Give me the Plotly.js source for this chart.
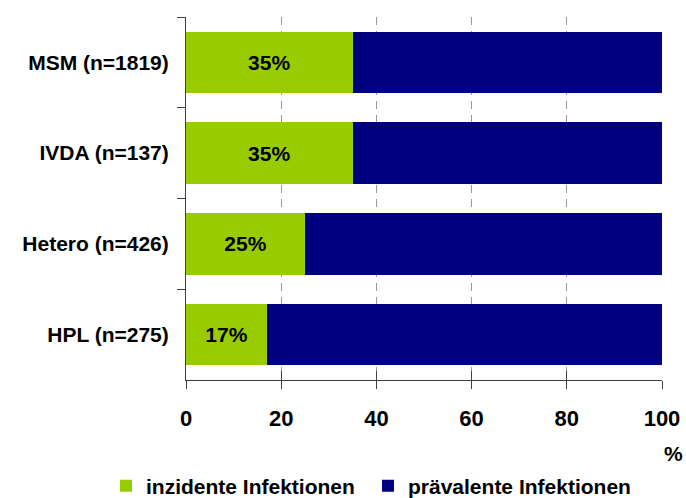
<!DOCTYPE html>
<html>
<head>
<meta charset="utf-8">
<script src="https://cdn.plot.ly/plotly-3.0.1.min.js"></script>
<style>
  html, body { margin: 0; padding: 0; background: #fff; }
  #chart { width: 686px; height: 498px; }
</style>
</head>
<body>
<div id="chart"></div>
<script>
// Groups, top to bottom
const groups = ['MSM (n=1819)', 'IVDA (n=137)', 'Hetero (n=426)', 'HPL (n=275)'];
// Share of incident infections per group (%)
const incident = [35, 35, 25, 17];
// Remaining share: prevalent infections (%)
const prevalent = [65, 65, 75, 83];
const seriesNames = ['inzidente Infektionen', 'prävalente Infektionen'];
const xTicks = [0, 20, 40, 60, 80, 100];

const FONT = 'Liberation Sans, Arial, sans-serif';

const traces = [
  {
    type: 'bar', orientation: 'h', name: seriesNames[0], legend: 'legend',
    y: groups, x: incident,
    marker: { color: '#99cc00' },
    text: incident.map(v => v + '%'),
    textposition: 'inside', insidetextanchor: 'middle',
    textfont: { family: FONT, size: 21, color: '#000', weight: 'bold' },
    hoverinfo: 'skip'
  },
  {
    type: 'bar', orientation: 'h', name: seriesNames[1], legend: 'legend2',
    y: groups, x: prevalent,
    marker: { color: '#000080' },
    hoverinfo: 'skip'
  },
  // invisible carrier for the upper half of the crossing x ticks
  {
    type: 'scatter', mode: 'markers', x: [0], y: [0], xaxis: 'x2', yaxis: 'y2',
    marker: { opacity: 0 }, showlegend: false, hoverinfo: 'skip'
  }
];

const legendBase = {
  orientation: 'h', xref: 'container', yref: 'container',
  xanchor: 'left', y: 0.024, yanchor: 'middle',
  font: { family: FONT, size: 21, color: '#000', weight: 'bold' },
  bgcolor: 'rgba(0,0,0,0)'
};

const layout = {
  width: 686, height: 498,
  margin: { l: 186, r: 24, t: 17, b: 118 },
  paper_bgcolor: '#fff', plot_bgcolor: '#fff',
  barmode: 'stack', bargap: 0.32,
  font: { family: FONT, color: '#000' },
  xaxis: {
    range: [0, 100], tickvals: xTicks, ticktext: xTicks.map(String),
    showline: true, linecolor: '#404040', linewidth: 1,
    ticks: 'outside', ticklen: 8, tickcolor: '#404040', tickwidth: 1,
    showgrid: true, gridcolor: '#999999', griddash: '8px,6px', gridwidth: 1,
    zeroline: false, fixedrange: true,
    tickfont: { family: FONT, size: 22, color: '#000', weight: 'bold' },
    ticklabelstandoff: 11
  },
  xaxis2: {
    overlaying: 'x', range: [0, 100], tickvals: xTicks,
    showticklabels: false, ticks: 'inside', ticklen: 9,
    tickcolor: '#404040', tickwidth: 1, showgrid: false, zeroline: false,
    showline: false, anchor: 'y'
  },
  yaxis: {
    type: 'category', autorange: 'reversed',
    showline: true, linecolor: '#404040', linewidth: 1,
    ticks: 'outside', ticklen: 8, tickcolor: '#404040', tickwidth: 1,
    tickson: 'boundaries', showgrid: false, zeroline: false,
    tickfont: { family: FONT, size: 21, color: '#000', weight: 'bold' },
    ticklabelstandoff: 12, fixedrange: true
  },
  yaxis2: {
    overlaying: 'y', range: [0, 1], visible: false
  },
  showlegend: true,
  legend: Object.assign({}, legendBase, { x: 106 / 686 }),
  legend2: Object.assign({}, legendBase, { x: 368 / 686 }),
  annotations: [
    {
      text: '%', xref: 'paper', yref: 'paper',
      x: (673 - 186) / 476, y: (380 - 453) / 363,
      xanchor: 'center', yanchor: 'middle', showarrow: false,
      font: { family: FONT, size: 21, color: '#000', weight: 'bold' }
    }
  ]
};

Plotly.newPlot('chart', traces, layout, { staticPlot: true, displayModeBar: false });
</script>
</body>
</html>
